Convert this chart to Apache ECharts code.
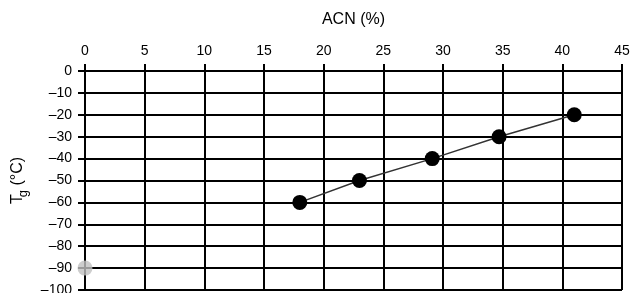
<!DOCTYPE html>
<html>
<head>
<meta charset="utf-8">
<script src="https://cdn.jsdelivr.net/npm/echarts@6/dist/echarts.min.js"></script>
<style>
html,body{margin:0;padding:0;background:#fff;}
#main{width:632px;height:293px;}
</style>
</head>
<body>
<div id="main"></div>
<script>
// ACN (%) vs Tg
var acn = [18, 23, 29.1, 34.7, 41];
var tg = [-60, -50, -40, -30, -20];
var greyPoint = [[0, -90]];

var myChart = echarts.init(document.getElementById('main'));
var lineData = [];
for (var i = 0; i < acn.length; i++) {
	lineData.push([acn[i], tg[i]]);
}
var option = {
	animation: false,
	grid: {left: 85, right: 10, top: 71, bottom: 3, containLabel: false, outerBoundsMode: 'none'},
	xAxis: {
		type: 'value',
		position: 'top',
		min: 0, max: 45, interval: 5,
		name: 'ACN (%)',
		nameLocation: 'middle',
		nameGap: 43,
		nameTextStyle: {color: '#000', fontSize: 16, fontFamily: 'Liberation Sans'},
		axisLine: {show: true, lineStyle: {color: '#000', width: 2}},
		axisTick: {show: true, length: 7, lineStyle: {color: '#000', width: 2}},
		axisLabel: {color: '#000', fontSize: 14, fontFamily: 'Liberation Sans', margin: 13},
		splitLine: {show: true, lineStyle: {color: '#000', width: 2}}
	},
	yAxis: {
		type: 'value',
		min: -100, max: 0, interval: 10,
		name: '{t|T}{s|g}{t| (°C)}',
		nameLocation: 'middle',
		nameGap: 57,
		nameRotate: 90,
		nameTextStyle: {
			color: '#000',
			rich: {
				t: {fontSize: 16, fontFamily: 'Liberation Sans', color: '#000', lineHeight: 20},
				s: {fontSize: 13, fontFamily: 'Liberation Sans', color: '#000', lineHeight: 20, padding: [10, 0, 0, -3]}
			}
		},
		axisLine: {show: true, lineStyle: {color: '#000', width: 2}},
		axisTick: {show: true, length: 7, lineStyle: {color: '#000', width: 2}},
		axisLabel: {
			color: '#000', fontSize: 14, fontFamily: 'Liberation Sans', margin: 13,
			formatter: function (v) { return v < 0 ? '\u2013' + Math.abs(v) : String(v); }
		},
		splitLine: {show: true, lineStyle: {color: '#000', width: 2}}
	},
	series: [
		{
			type: 'line',
			data: lineData,
			symbol: 'circle',
			symbolSize: 15,
			itemStyle: {color: '#000'},
			lineStyle: {color: '#333', width: 1.5},
			z: 5
		},
		{
			type: 'scatter',
			data: greyPoint,
			symbol: 'circle',
			symbolSize: 15,
			itemStyle: {color: '#c0c0c0'},
			clip: false,
			z: 5
		}
	]
};
myChart.setOption(option);
</script>
</body>
</html>
